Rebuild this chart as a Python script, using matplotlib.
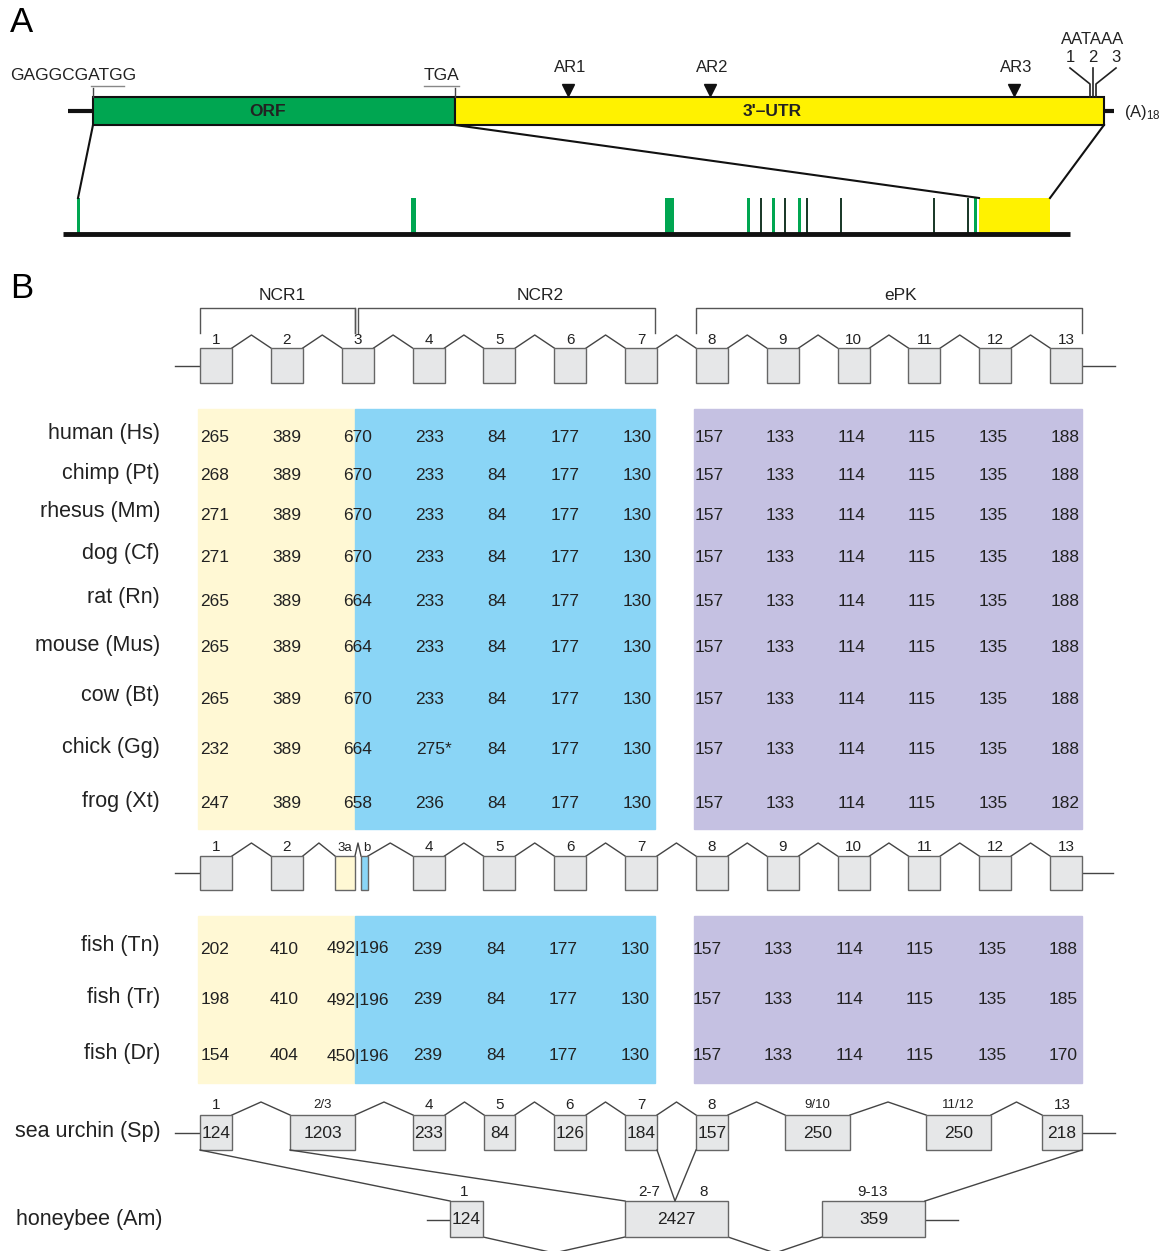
import matplotlib.pyplot as plt
from matplotlib.patches import Rectangle
import numpy as np

plt.rcParams['font.family'] = ['Liberation Sans', 'DejaVu Sans']
plt.rcParams['mathtext.default'] = 'regular'

# ---- data ----
ar_labels = ['AR1', 'AR2', 'AR3']
polya_labels = ['1', '2', '3']

exon_numbers = ['1', '2', '3', '4', '5', '6', '7', '8', '9', '10', '11', '12', '13']
fish_exon_numbers = ['1', '2', '3a', 'b', '4', '5', '6', '7', '8', '9', '10', '11', '12', '13']
domains = ['NCR1', 'NCR2', 'ePK']

mammals = ['human (Hs)', 'chimp (Pt)', 'rhesus (Mm)', 'dog (Cf)', 'rat (Rn)',
           'mouse (Mus)', 'cow (Bt)', 'chick (Gg)', 'frog (Xt)']
ex1 = ['265', '268', '271', '271', '265', '265', '265', '232', '247']
ex3 = ['670', '670', '670', '670', '664', '664', '670', '664', '658']
ex4 = ['233', '233', '233', '233', '233', '233', '233', '275*', '236']
ex13 = ['188', '188', '188', '188', '188', '188', '188', '188', '182']
shared_mid = ['84', '177', '130', '157', '133', '114', '115', '135']

fish = ['fish (Tn)', 'fish (Tr)', 'fish (Dr)']
fish_ex1 = ['202', '198', '154']
fish_ex2 = ['410', '410', '404']
fish_ex3 = ['492|196', '492|196', '450|196']
fish_ex4 = ['239', '239', '239']
fish_ex13 = ['188', '185', '170']

urchin_labels = ['1', '2/3', '4', '5', '6', '7', '8', '9/10', '11/12', '13']
urchin_sizes = ['124', '1203', '233', '84', '126', '184', '157', '250', '250', '218']
bee_labels = ['1', '2-7', '9-13']
bee_sizes = ['124', '2427', '359']

# ---- layout ----
GREEN = '#00a651'
YELLOW = '#fff200'
CREAM = '#fff8d4'
BLUE = '#8ad5f6'
PURPLE = '#c5c1e2'
BOXFILL = '#e6e7e8'
EDGE = '#666666'

fig = plt.figure(figsize=(11.75, 12.51), dpi=100)
ax = fig.add_axes([0, 0, 1, 1])
ax.set_xlim(0, 1175)
ax.set_ylim(1251, 0)
ax.axis('off')


def box(x0, x1, y0, y1, fc=BOXFILL, ec=EDGE, lw=1.0, z=2):
    ax.add_patch(Rectangle((x0, y0), x1 - x0, y1 - y0, facecolor=fc,
                           edgecolor=ec, linewidth=lw, zorder=z))


def gene(lefts, rights, top, bottom, peak=13, colors=None, down=False):
    for i, (l, r) in enumerate(zip(lefts, rights)):
        box(l, r, top, bottom, fc=BOXFILL if colors is None else colors[i])
    for i in range(len(lefts) - 1):
        mid = (rights[i] + lefts[i + 1]) / 2
        if down:
            ax.plot([rights[i], mid, lefts[i + 1]], [bottom, bottom + peak, bottom],
                    color='#444', lw=1.0, zorder=1)
        else:
            ax.plot([rights[i], mid, lefts[i + 1]], [top, top - peak, top],
                    color='#444', lw=1.0, zorder=1)


# ================= panel A =================
ax.text(10, 22, 'A', fontsize=25, va='center', ha='left')

ax.plot([68, 93], [111, 111], color='#111', lw=3, solid_capstyle='butt')
ax.plot([1104, 1114], [111, 111], color='#111', lw=3, solid_capstyle='butt')
box(93, 455, 97, 125, fc=GREEN, ec='#111', lw=1.5)
box(455, 1104, 97, 125, fc=YELLOW, ec='#111', lw=1.5)
ax.text(268, 111, 'ORF', fontsize=12.5, fontweight='bold', ha='center', va='center', color='#222')
ax.text(772, 111, "3'\u2013UTR", fontsize=12.5, fontweight='bold', ha='center', va='center', color='#222')
ax.text(1124, 112, '(A)$_{18}$', fontsize=12, ha='left', va='center', color='#222')

ax.text(10, 76, 'GAGGCGATGG', fontsize=12.5, ha='left', va='center', color='#222')
ax.plot([91, 124], [86, 86], color='#888', lw=1)
ax.plot([93, 93], [88, 97], color='#444', lw=1)
ax.text(441, 76, 'TGA', fontsize=12.5, ha='center', va='center', color='#222')
ax.plot([424, 459], [86, 86], color='#888', lw=1)
ax.plot([455, 455], [88, 97], color='#444', lw=1)

for lab, x in zip(ar_labels, [568, 710, 1014]):
    ax.plot(x, 90, marker='v', color='#111', markersize=9)
    ax.text(x + 2, 68, lab, fontsize=12, ha='center', va='center', color='#222')

ax.text(1093, 40, 'AATAAA', fontsize=12, ha='center', va='center', color='#222')
for lab, x, xt in zip(polya_labels, [1090, 1093, 1096], [1070, 1093, 1116]):
    ax.plot([x, x, xt], [97, 84, 68], color='#222', lw=1.2)
    ax.text(xt, 58, lab, fontsize=12, ha='center', va='center', color='#222')

# zoomed gene line
ax.plot([63, 1070], [234, 234], color='#111', lw=3.5, solid_capstyle='butt', zorder=3)
gx = [77, 411, 665, 747, 760, 772, 784, 798, 806, 840, 933, 967, 974]
gw = [3, 5, 9, 3, 2, 3, 2, 3, 2, 2, 2, 2, 3]
gc = [GREEN, GREEN, GREEN, GREEN, '#1c3b2a', GREEN, '#1c3b2a', GREEN, '#1c3b2a',
      '#1c3b2a', '#1c3b2a', '#1c3b2a', GREEN]
for x, w, c in zip(gx, gw, gc):
    box(x, x + w, 198, 234, fc=c, ec='none', lw=0)
box(979, 1050, 198, 234, fc=YELLOW, ec='none', lw=0)
ax.plot([93, 78], [125, 198], color='#111', lw=1.5)
ax.plot([455, 979], [125, 198], color='#111', lw=1.5)
ax.plot([1104, 1050], [125, 198], color='#111', lw=1.5)

# ================= panel B =================
ax.text(10, 288, 'B', fontsize=25, va='center', ha='left')

lefts = np.linspace(200, 1050, 13)
rights = lefts + 32
centers = lefts + 16

# domain brackets
for lab, x0, x1, xt in zip(domains, [200, 358, 696], [355, 655, 1082], [282, 540, 901]):
    ax.plot([x0, x0, x1, x1], [333, 308, 308, 333], color='#555', lw=1)
    ax.text(xt, 295, lab, fontsize=12.5, ha='center', va='center', color='#222')
ax.plot([355, 355], [308, 333], color='#555', lw=1)

ax.plot([175, 200], [366, 366], color='#444', lw=1)
ax.plot([1082, 1115], [366, 366], color='#444', lw=1)
gene(lefts, rights, 348, 383)
for lab, c in zip(exon_numbers, centers):
    ax.text(c, 340, lab, fontsize=11, ha='center', va='center', color='#222')

# mammal table
ax.add_patch(Rectangle((198, 409), 157, 420, color=CREAM, zorder=0))
ax.add_patch(Rectangle((355, 409), 300, 420, color=BLUE, zorder=0))
ax.add_patch(Rectangle((694, 409), 388, 420, color=PURPLE, zorder=0))

row_y = [436, 475, 514, 556, 600, 647, 698, 749, 803]
col_x = [215, 287, 358, 430, 497, 565, 637, 709, 780, 852, 922, 993, 1065]
for i, (name, y) in enumerate(zip(mammals, row_y)):
    vals = [ex1[i], '389', ex3[i], ex4[i]] + shared_mid + [ex13[i]]
    ax.text(160, y - 2, name, fontsize=15.5, ha='right', va='center', color='#222')
    for v, x in zip(vals, col_x):
        if v.endswith('*'):
            ax.text(x - 14, y + 1, v, fontsize=12.5, ha='left', va='center', color='#222')
        else:
            ax.text(x, y + 1, v, fontsize=12.5, ha='center', va='center', color='#222')

# fish gene structure
flefts = list(lefts[:2]) + [335, 361] + list(lefts[3:])
frights = list(rights[:2]) + [355, 368] + list(rights[3:])
fcolors = [BOXFILL, BOXFILL, CREAM, BLUE] + [BOXFILL] * 10
ax.plot([175, 200], [873, 873], color='#444', lw=1)
ax.plot([1082, 1113], [873, 873], color='#444', lw=1)
gene(flefts, frights, 856, 890, colors=fcolors)
for lab, l, r in zip(fish_exon_numbers, flefts, frights):
    if lab == '3a':
        ax.text(345, 848, lab, fontsize=9.5, ha='center', va='center', color='#222')
    elif lab == 'b':
        ax.text(367, 848, lab, fontsize=9.5, ha='center', va='center', color='#222')
    else:
        ax.text((l + r) / 2, 847, lab, fontsize=11, ha='center', va='center', color='#222')

ax.add_patch(Rectangle((198, 916), 157, 167, color=CREAM, zorder=0))
ax.add_patch(Rectangle((355, 916), 300, 167, color=BLUE, zorder=0))
ax.add_patch(Rectangle((694, 916), 388, 167, color=PURPLE, zorder=0))

fish_y = [948, 999, 1055]
fish_x = [215, 284, 358, 428, 496, 563, 635, 707, 778, 850, 920, 992, 1063]
for i, (name, y) in enumerate(zip(fish, fish_y)):
    vals = [fish_ex1[i], fish_ex2[i], fish_ex3[i], fish_ex4[i]] + shared_mid + [fish_ex13[i]]
    ax.text(160, y - 2, name, fontsize=15.5, ha='right', va='center', color='#222')
    for v, x in zip(vals, fish_x):
        ax.text(x, y + 1, v, fontsize=12.5, ha='center', va='center', color='#222')

# sea urchin
ul = [200, 290, 413, 484, 554, 625, 696, 785, 926, 1042]
ur = [232, 355, 445, 515, 586, 657, 728, 850, 991, 1082]
ax.text(161, 1132, 'sea urchin (Sp)', fontsize=15.5, ha='right', va='center', color='#222')
ax.plot([175, 200], [1133, 1133], color='#444', lw=1)
ax.plot([1082, 1115], [1133, 1133], color='#444', lw=1)
gene(ul, ur, 1115, 1150)
for lab, size, l, r in zip(urchin_labels, urchin_sizes, ul, ur):
    fs = 9.5 if '/' in lab else 11
    ax.text((l + r) / 2, 1105, lab, fontsize=fs, ha='center', va='center', color='#222')
    ax.text((l + r) / 2, 1133, size, fontsize=12.5, ha='center', va='center', color='#222')

# honeybee
bl = [450, 625, 822]
br = [483, 728, 925]
ax.text(163, 1219, 'honeybee (Am)', fontsize=15.5, ha='right', va='center', color='#222')
ax.plot([427, 450], [1220, 1220], color='#444', lw=1)
ax.plot([925, 958], [1220, 1220], color='#444', lw=1)
gene(bl, br, 1201, 1237, peak=16, down=True)
ax.text(464, 1192, bee_labels[0], fontsize=11, ha='center', va='center', color='#222')
ax.text(649, 1192, bee_labels[1], fontsize=11, ha='center', va='center', color='#222')
ax.text(704, 1192, '8', fontsize=11, ha='center', va='center', color='#222')
ax.text(873, 1192, bee_labels[2], fontsize=11, ha='center', va='center', color='#222')
for size, l, r in zip(bee_sizes, bl, br):
    ax.text((l + r) / 2, 1220, size, fontsize=12.5, ha='center', va='center', color='#222')

# homology connectors
ax.plot([200, 450], [1150, 1201], color='#444', lw=1)
ax.plot([290, 625], [1150, 1201], color='#444', lw=1)
ax.plot([657, 675, 696], [1150, 1201, 1150], color='#444', lw=1)
ax.plot([1082, 925], [1150, 1201], color='#444', lw=1)

fig.savefig('out.png', dpi=100)
